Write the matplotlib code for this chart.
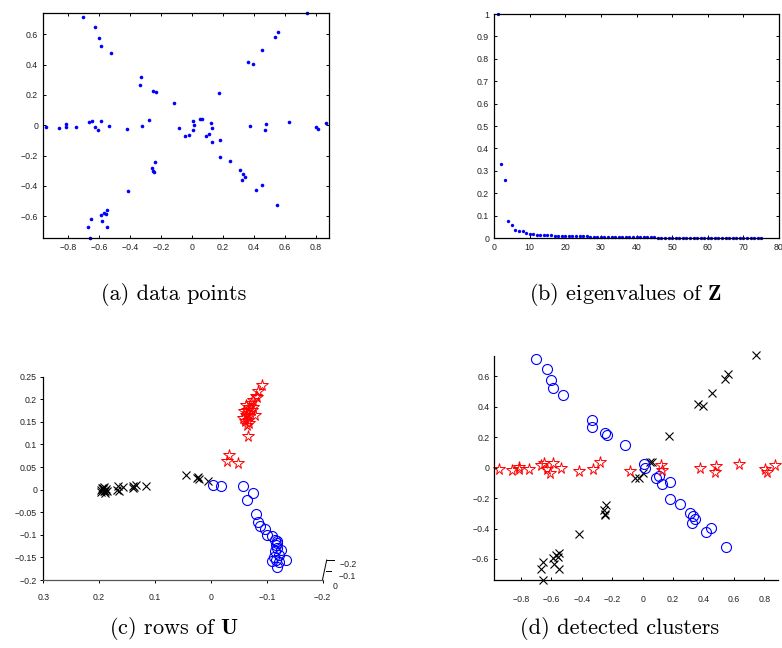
import matplotlib
matplotlib.use('Agg')
import matplotlib.pyplot as plt
from matplotlib.ticker import FuncFormatter

# ---- data points (panel a / d), grouped by detected cluster ----
blue_x = [-0.704, -0.627, -0.605, -0.590, -0.526, -0.331, -0.335, -0.250, -0.232, -0.118,
          0.007, 0.015, 0.090, 0.110, 0.130, 0.178, 0.180, 0.247, 0.311, 0.333,
          0.346, 0.324, 0.416, 0.452, 0.550]
blue_y = [0.715, 0.651, 0.578, 0.523, 0.479, 0.316, 0.267, 0.229, 0.218, 0.150,
          0.026, 0.000, -0.070, -0.055, -0.110, -0.097, -0.207, -0.238, -0.298, -0.318,
          -0.340, -0.364, -0.424, -0.393, -0.523]

black_x = [0.743, 0.559, 0.539, 0.454, 0.362, 0.395, 0.175, 0.064, 0.050, 0.004,
           -0.022, -0.048, -0.239, -0.256, -0.250, -0.245, -0.416, -0.550, -0.559, -0.572,
           -0.592, -0.585, -0.655, -0.671, -0.552, -0.658]
black_y = [0.739, 0.613, 0.582, 0.494, 0.417, 0.404, 0.210, 0.040, 0.040, -0.033,
           -0.066, -0.071, -0.245, -0.280, -0.304, -0.311, -0.435, -0.560, -0.587, -0.576,
           -0.591, -0.633, -0.620, -0.668, -0.668, -0.740]

red_x = [-0.945, -0.861, -0.815, -0.815, -0.750, -0.666, -0.649, -0.627, -0.607, -0.587,
         -0.539, -0.421, -0.327, -0.281, -0.083, 0.121, 0.129, 0.375, 0.480, 0.473,
         0.631, 0.802, 0.818, 0.870]
red_y = [-0.009, -0.015, 0.007, -0.011, -0.011, 0.020, 0.029, -0.011, -0.033, 0.029,
         -0.004, -0.022, -0.007, 0.035, -0.020, 0.015, -0.018, -0.004, 0.009, -0.029,
         0.024, -0.011, -0.026, 0.018]

# ---- eigenvalues of Z (panel b) ----
eigvals = [1.000, 0.331, 0.257, 0.077, 0.056, 0.037, 0.031, 0.030, 0.023, 0.016,
           0.016, 0.015, 0.014, 0.013, 0.013, 0.012, 0.011, 0.010, 0.010, 0.009,
           0.009, 0.008, 0.008, 0.007, 0.007, 0.007, 0.006, 0.006, 0.006, 0.005,
           0.005, 0.005, 0.005, 0.004, 0.004, 0.004, 0.004, 0.004, 0.003, 0.003,
           0.003, 0.003, 0.003, 0.003, 0.003, 0.002, 0.002, 0.002, 0.002, 0.002,
           0.002, 0.002, 0.002, 0.002, 0.001, 0.001, 0.001, 0.001, 0.001, 0.001,
           0.001, 0.001, 0.001, 0.001, 0.001, 0.001, 0.000, 0.000, 0.000, 0.000,
           0.000, 0.000, 0.000, 0.000, 0.000]
eig_idx = list(range(1, len(eigvals) + 1))

# ---- rows of U (panel c), projected view ----
u_black_x = [0.197, 0.194, 0.191, 0.188, 0.196, 0.186, 0.192, 0.190, 0.193, 0.189,
             0.195, 0.167, 0.164, 0.168, 0.158, 0.140, 0.137, 0.134, 0.139, 0.116,
             0.045, 0.025, 0.023, 0.021, 0.005]
u_black_y = [0.000, 0.004, -0.004, 0.001, -0.006, -0.002, 0.006, -0.007, 0.002, -0.003,
             0.003, 0.007, -0.004, 0.000, 0.006, 0.009, 0.005, 0.011, 0.004, 0.009,
             0.033, 0.026, 0.029, 0.024, 0.020]

u_blue_x = [-0.004, -0.018, -0.058, -0.076, -0.064, -0.081, -0.085, -0.087, -0.096, -0.101,
            -0.109, -0.115, -0.119, -0.116, -0.119, -0.115, -0.121, -0.112, -0.116, -0.121,
            -0.134, -0.119, -0.109, -0.118, -0.125]
u_blue_y = [0.010, 0.007, 0.007, -0.007, -0.022, -0.054, -0.072, -0.081, -0.088, -0.100,
            -0.103, -0.111, -0.114, -0.122, -0.129, -0.136, -0.144, -0.150, -0.155, -0.160,
            -0.155, -0.171, -0.159, -0.117, -0.134]

u_red_x = [-0.091, -0.084, -0.081, -0.076, -0.072, -0.069, -0.064, -0.060, -0.073, -0.067,
           -0.063, -0.058, -0.066, -0.061, -0.069, -0.064, -0.078, -0.066, -0.033, -0.029,
           -0.048, -0.069, -0.075, -0.082, -0.062]
u_red_y = [0.232, 0.218, 0.208, 0.199, 0.192, 0.184, 0.177, 0.173, 0.177, 0.170,
           0.166, 0.159, 0.155, 0.151, 0.147, 0.144, 0.166, 0.118, 0.077, 0.064,
           0.059, 0.162, 0.184, 0.206, 0.188]

captions = ['(a) data points', r'(b) eigenvalues of $\mathbf{Z}$',
            r'(c) rows of $\mathbf{U}$', '(d) detected clusters']

BLUE = (0, 0, 1)
RED = (1, 0, 0)
TICK_FS = 6.3


def mfmt(v, pos=None):
    s = '%g' % round(v, 4)
    return s.replace('-', '\u2212')


def style_axes(ax, direction='in', box=True, pad=3.5):
    for side in ('top', 'right'):
        ax.spines[side].set_visible(box)
    for sp in ax.spines.values():
        sp.set_linewidth(0.9)
    ax.tick_params(direction=direction, length=2.5, width=0.7, labelsize=TICK_FS,
                   labelcolor='#222222', pad=pad, top=box, right=box)
    for lab in ax.get_xticklabels() + ax.get_yticklabels():
        lab.set_family('Liberation Sans')
    ax.xaxis.set_major_formatter(FuncFormatter(mfmt))
    ax.yaxis.set_major_formatter(FuncFormatter(mfmt))


plt.rcParams['mathtext.fontset'] = 'cm'
plt.rcParams['font.family'] = ['Liberation Sans', 'DejaVu Sans']

fig = plt.figure(figsize=(7.82, 6.48), dpi=100)
W, H = 782.0, 648.0


def add_axes(left, top, right, bottom):
    return fig.add_axes([left / W, 1 - bottom / H, (right - left) / W, (bottom - top) / H])


# (a) data points
ax_a = add_axes(43, 13, 329, 238)
all_x = blue_x + black_x + red_x
all_y = blue_y + black_y + red_y
ax_a.plot(all_x, all_y, 'o', color=BLUE, ms=2.6, mew=0, clip_on=False)
ax_a.set_xlim(-0.965, 0.887)
ax_a.set_ylim(-0.743, 0.74)
ax_a.set_xticks([-0.8, -0.6, -0.4, -0.2, 0, 0.2, 0.4, 0.6, 0.8])
ax_a.set_yticks([-0.6, -0.4, -0.2, 0, 0.2, 0.4, 0.6])
style_axes(ax_a)

# (b) eigenvalues
ax_b = add_axes(494, 14, 779, 238)
ax_b.plot(eig_idx, eigvals, 'o', color=BLUE, ms=2.4, mew=0, clip_on=False)
ax_b.set_xlim(0, 80)
ax_b.set_ylim(0, 1)
ax_b.set_xticks(range(0, 81, 10))
ax_b.set_yticks([i / 10 for i in range(11)])
style_axes(ax_b)

# (c) rows of U (3-D view, drawn flat)
ax_c = add_axes(43.3, 376.7, 322.7, 580)
ax_c.plot(u_black_x, u_black_y, 'x', color='black', ms=5.5, mew=0.8)
ax_c.plot(u_blue_x, u_blue_y, 'o', mfc='none', mec=BLUE, ms=7.2, mew=0.8)
ax_c.plot(u_red_x, u_red_y, '*', mfc='none', mec=RED, ms=8.5, mew=0.7)
ax_c.set_xlim(0.3, -0.2)
ax_c.set_ylim(-0.2, 0.25)
ax_c.set_xticks([0.3, 0.2, 0.1, 0, -0.1, -0.2])
ax_c.set_yticks([-0.2, -0.15, -0.1, -0.05, 0, 0.05, 0.1, 0.15, 0.2, 0.25])
style_axes(ax_c, direction='out', box=False, pad=2)
ax_c.tick_params(axis='x', pad=7)
ax_c.spines['bottom'].set_color('#555555')
# small depth axis at the bottom-right corner
tr = ax_c.transAxes
ax_c.plot([0.9986, 1.0143], [-0.003, 0.0984], color='black', lw=0.7, transform=tr, clip_on=False)
ax_c.plot([1.0143, 1.0415], [0.0984, 0.0984], color='black', lw=0.7, transform=tr, clip_on=False)
ax_c.plot([1.0107, 1.0286], [0.0457, 0.0457], color='black', lw=0.7, transform=tr, clip_on=False)
for lx, ly, txt in [(1.09, 0.074, '\u22120.2'), (1.087, 0.016, '\u22120.1'), (1.044, -0.033, '0')]:
    ax_c.text(lx, ly, txt, transform=tr, fontsize=TICK_FS, color='#222222',
              ha='center', va='center', family='Liberation Sans')

# (d) detected clusters
ax_d = add_axes(494.3, 356, 778, 580)
ax_d.plot(black_x, black_y, 'x', color='black', ms=5.5, mew=0.8, clip_on=False)
ax_d.plot(blue_x, blue_y, 'o', mfc='none', mec=BLUE, ms=7.2, mew=0.8, clip_on=False)
ax_d.plot(red_x, red_y, '*', mfc='none', mec=RED, ms=8.5, mew=0.7, clip_on=False)
ax_d.set_xlim(-0.975, 0.89)
ax_d.set_ylim(-0.738, 0.734)
ax_d.set_xticks([-0.8, -0.6, -0.4, -0.2, 0, 0.2, 0.4, 0.6, 0.8])
ax_d.set_yticks([-0.6, -0.4, -0.2, 0, 0.2, 0.4, 0.6])
style_axes(ax_d, box=False)
ax_d.tick_params(axis='x', pad=11)

# captions
cap_pos = [(174, 294), (626, 294), (174, 628), (620, 628)]
for (cx, cy), cap in zip(cap_pos, captions):
    fig.text(cx / W, 1 - cy / H, cap, ha='center', va='center', fontsize=16,
             family='cmr10')

fig.savefig('out.png', dpi=100)
